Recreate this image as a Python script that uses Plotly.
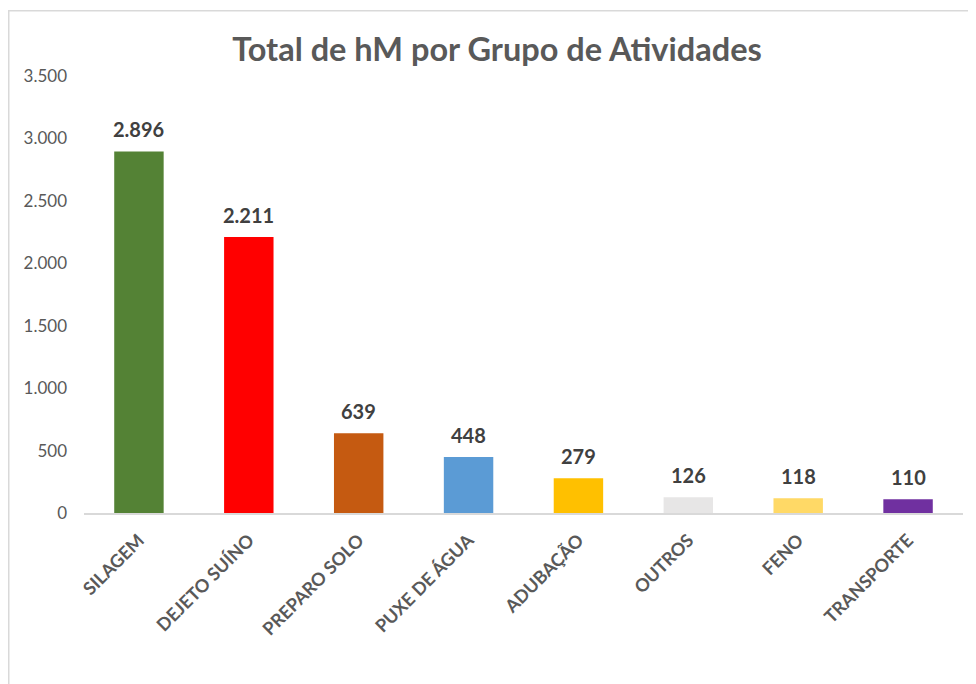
import plotly.graph_objects as go

categories = ["SILAGEM", "DEJETO SUÍNO", "PREPARO SOLO", "PUXE DE ÁGUA",
              "ADUBAÇÃO", "OUTROS", "FENO", "TRANSPORTE"]
values = [2896, 2211, 639, 448, 279, 126, 118, 110]
colors = ["#548235", "#FF0000", "#C55A11", "#5B9BD5",
          "#FFC000", "#E7E6E6", "#FFD966", "#7030A0"]
y_ticks = [0, 500, 1000, 1500, 2000, 2500, 3000, 3500]
y_tick_labels = ["0", "500", "1.000", "1.500", "2.000", "2.500", "3.000", "3.500"]
title_text = "Total de hM por Grupo de Atividades"

FONT = "Lato, 'Open Sans', sans-serif"

fig = go.Figure()
fig.add_trace(go.Bar(
    x=categories, y=values,
    marker=dict(color=colors, line=dict(width=0)),
    hoverinfo="x+y",
))

for c, v in zip(categories, values):
    fig.add_annotation(
        x=c, y=v, text=f"{v:,}".replace(",", "."),
        showarrow=False, yanchor="bottom", yshift=8,
        font=dict(family=FONT, size=20, color="#404040", weight="bold"),
    )

# page body has an 8px margin; figure sized to fill the rest of the window
W, H = 968, 676
L, R, T, B = 76, 13, 68, 171
pw, ph = W - L - R, H - T - B
def px_x(p):
    return (p - L) / pw
def px_y(p):
    return (H - B - p) / ph

fig.add_shape(type="rect", xref="paper", yref="paper",
              x0=px_x(0.75), x1=px_x(1000), y0=px_y(720), y1=px_y(2.75),
              line=dict(color="#D9D9D9", width=1.5), layer="below")

fig.update_layout(
    width=W, height=H,
    margin=dict(l=L, r=R, t=T, b=B),
    paper_bgcolor="white", plot_bgcolor="white",
    separators=",.",
    bargap=0.55,
    showlegend=False,
    title=dict(text=title_text, x=489 / W, xanchor="center", xref="container",
               y=1 - 42 / H, yanchor="middle",
               font=dict(family=FONT, size=32.5, color="#595959", weight="bold")),
    xaxis=dict(
        showgrid=False, showline=True, linecolor="#D9D9D9", linewidth=1.5,
        ticks="", tickangle=-45, ticklabelstandoff=8,
        tickfont=dict(family=FONT, size=18, color="#595959", weight="bold"),
    ),
    yaxis=dict(
        range=[0, 3500], showgrid=False, showline=False, zeroline=False,
        tickvals=y_ticks, ticktext=y_tick_labels, ticks="",
        ticklabelstandoff=16,
        tickfont=dict(family=FONT, size=17, color="#595959"),
    ),
)

fig.write_html("out.html")
